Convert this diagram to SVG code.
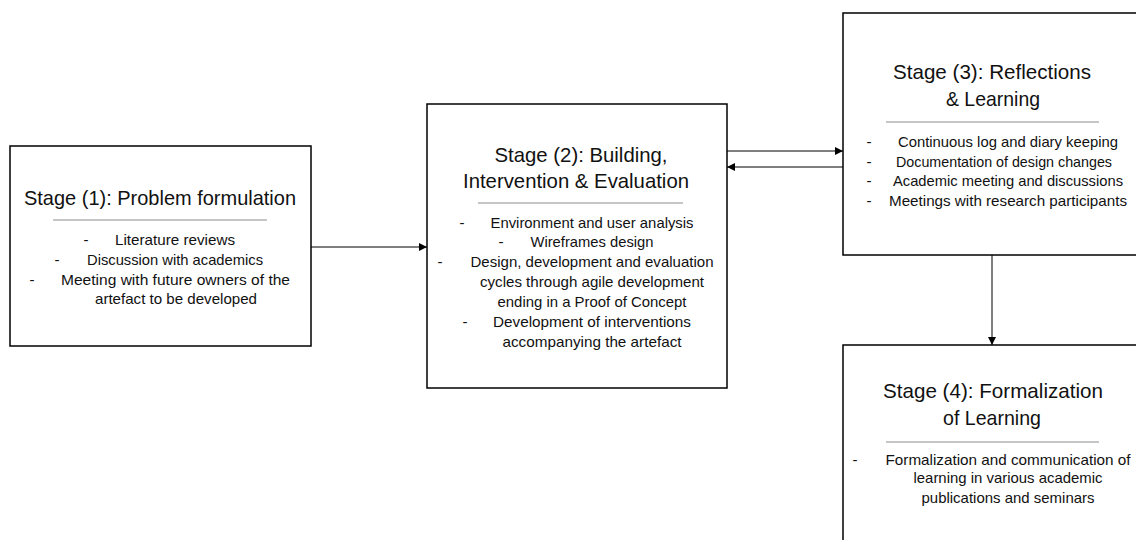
<svg xmlns="http://www.w3.org/2000/svg" width="1136" height="540" viewBox="0 0 1136 540">
<style>
.box{fill:#fff;stroke:#000;stroke-width:1.5}
.sep{stroke:#8c8c8c;stroke-width:1}
.t{font-family:"Liberation Sans","Open Sans",sans-serif;font-size:21px;fill:#111;text-anchor:middle}
.b{font-family:"Liberation Sans","Open Sans",sans-serif;font-size:15px;fill:#111;text-anchor:middle}
.d{font-family:"Liberation Sans",sans-serif;font-size:15px;fill:#111;text-anchor:middle}
.c{stroke:#000;stroke-width:1;fill:none}
</style>
<defs>
<marker id="ah" viewBox="0 0 10 10" refX="10" refY="5" markerWidth="8" markerHeight="8" markerUnits="userSpaceOnUse" orient="auto">
<path d="M0,0 L10,5 L0,10 Z" fill="#000"/>
</marker>
</defs>
<rect width="1136" height="540" fill="#fff"/>
<g id="connectors">
<line class="c" x1="311" y1="247" x2="427" y2="247" marker-end="url(#ah)"/>
<line class="c" x1="727" y1="151" x2="843" y2="151" stroke="#555" marker-end="url(#ah)"/>
<line class="c" x1="843" y1="167" x2="727" y2="167" marker-end="url(#ah)"/>
<line class="c" x1="992" y1="255" x2="992" y2="345" marker-end="url(#ah)"/>
</g>
<g id="stage1">
<rect class="box" x="10" y="146" width="301" height="200"/>
<text class="t" x="160" y="205" textLength="272" lengthAdjust="spacingAndGlyphs">Stage (1): Problem formulation</text>
<line class="sep" x1="53" y1="220" x2="267" y2="220"/>
<text class="d" x="86" y="245">-</text>
<text class="b" x="175" y="245" textLength="120" lengthAdjust="spacingAndGlyphs">Literature reviews</text>
<text class="d" x="57" y="265">-</text>
<text class="b" x="175" y="265" textLength="176" lengthAdjust="spacingAndGlyphs">Discussion with academics</text>
<text class="d" x="32" y="285">-</text>
<text class="b" x="175.5" y="285" textLength="229" lengthAdjust="spacingAndGlyphs">Meeting with future owners of the</text>
<text class="b" x="176" y="304" textLength="162" lengthAdjust="spacingAndGlyphs">artefact to be developed</text>
</g>
<g id="stage2">
<rect class="box" x="427" y="104" width="300" height="284"/>
<text class="t" x="581" y="162" textLength="173" lengthAdjust="spacingAndGlyphs">Stage (2): Building,</text>
<text class="t" x="576" y="188" textLength="226" lengthAdjust="spacingAndGlyphs">Intervention &amp; Evaluation</text>
<line class="sep" x1="478" y1="203" x2="683" y2="203"/>
<text class="d" x="462" y="228">-</text>
<text class="b" x="592" y="228" textLength="203" lengthAdjust="spacingAndGlyphs">Environment and user analysis</text>
<text class="d" x="501" y="247">-</text>
<text class="b" x="592" y="247" textLength="123" lengthAdjust="spacingAndGlyphs">Wireframes design</text>
<text class="d" x="440" y="267">-</text>
<text class="b" x="592" y="267" textLength="243" lengthAdjust="spacingAndGlyphs">Design, development and evaluation</text>
<text class="b" x="592" y="287" textLength="224" lengthAdjust="spacingAndGlyphs">cycles through agile development</text>
<text class="b" x="592" y="307" textLength="189" lengthAdjust="spacingAndGlyphs">ending in a Proof of Concept</text>
<text class="d" x="465" y="327">-</text>
<text class="b" x="592" y="327" textLength="198" lengthAdjust="spacingAndGlyphs">Development of interventions</text>
<text class="b" x="592" y="347" textLength="179" lengthAdjust="spacingAndGlyphs">accompanying the artefact</text>
</g>
<g id="stage3">
<rect class="box" x="843" y="13" width="300" height="242"/>
<text class="t" x="992" y="79" textLength="198" lengthAdjust="spacingAndGlyphs">Stage (3): Reflections</text>
<text class="t" x="993" y="106" textLength="94" lengthAdjust="spacingAndGlyphs">&amp; Learning</text>
<line class="sep" x1="886" y1="122" x2="1099" y2="122"/>
<text class="d" x="869" y="147">-</text>
<text class="b" x="1008" y="147" textLength="220" lengthAdjust="spacingAndGlyphs">Continuous log and diary keeping</text>
<text class="d" x="869" y="167">-</text>
<text class="b" x="1004" y="167" textLength="216" lengthAdjust="spacingAndGlyphs">Documentation of design changes</text>
<text class="d" x="869" y="186">-</text>
<text class="b" x="1008" y="186" textLength="230" lengthAdjust="spacingAndGlyphs">Academic meeting and discussions</text>
<text class="d" x="869" y="206">-</text>
<text class="b" x="1008" y="206" textLength="238" lengthAdjust="spacingAndGlyphs">Meetings with research participants</text>
</g>
<g id="stage4">
<rect class="box" x="843" y="345" width="300" height="210"/>
<text class="t" x="993" y="398" textLength="220" lengthAdjust="spacingAndGlyphs">Stage (4): Formalization</text>
<text class="t" x="992" y="425" textLength="98" lengthAdjust="spacingAndGlyphs">of Learning</text>
<line class="sep" x1="886" y1="442" x2="1099" y2="442"/>
<text class="d" x="855" y="465">-</text>
<text class="b" x="1008" y="465" textLength="245" lengthAdjust="spacingAndGlyphs">Formalization and communication of</text>
<text class="b" x="1008" y="483" textLength="189" lengthAdjust="spacingAndGlyphs">learning in various academic</text>
<text class="b" x="1008" y="503" textLength="173" lengthAdjust="spacingAndGlyphs">publications and seminars</text>
</g>
</svg>
